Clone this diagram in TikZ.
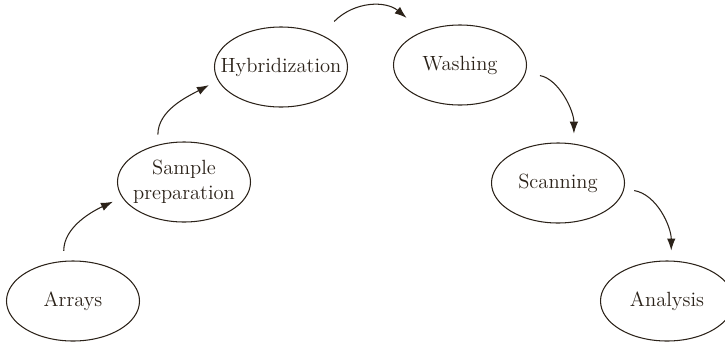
\documentclass[tikz,border=0pt]{standalone}
\usetikzlibrary{shapes.geometric,arrows.meta}
\definecolor{ink}{HTML}{2B2219}
% keep the text from widening the ellipse
\newcommand{\nowidth}[1]{\makebox[0pt]{#1}}

\begin{document}
\begin{tikzpicture}[
  stage/.style={ellipse, draw=ink, line width=0.6pt, minimum width=2.66cm, minimum height=1.6cm,
    inner sep=0pt, text=ink, font=\fontsize{11.7}{14}\selectfont},
  flow/.style={-{Latex[length=2.4mm,width=1.7mm]}, draw=ink, line width=0.6pt,
    shorten <=0.2cm, shorten >=0.2cm}]
\useasboundingbox (0,0) rectangle (14.5,6.86);
\node[stage] (arrays) at (1.46,0.84) {\nowidth{Arrays}};
\node[stage] (sample) at (3.68,3.22) {\nowidth{\begin{tabular}{@{}c@{}}Sample\\preparation\end{tabular}}};
\node[stage] (hybrid) at (5.62,5.52) {\nowidth{Hybridization}};
\node[stage] (washing) at (9.20,5.56) {\nowidth{Washing}};
\node[stage] (scanning) at (11.16,3.20) {\nowidth{Scanning}};
\node[stage] (analysis) at (13.34,0.84) {\nowidth{Analysis}};

\draw[flow] (arrays.103) to[out=90,in=205] (sample.194);
\draw[flow] (sample.125) to[out=90,in=208] (hybrid.192);
\draw[flow, shorten <=0.37cm, shorten >=0.42cm] (hybrid.39) to[out=45,in=140,looseness=1.2] (washing.138);
\draw[flow, shorten <=0.29cm] (washing.-7) to[out=-10,in=90] (scanning.68);
\draw[flow] (scanning.-5) to[out=-10,in=90] (analysis.84);

\end{tikzpicture}
\end{document}
